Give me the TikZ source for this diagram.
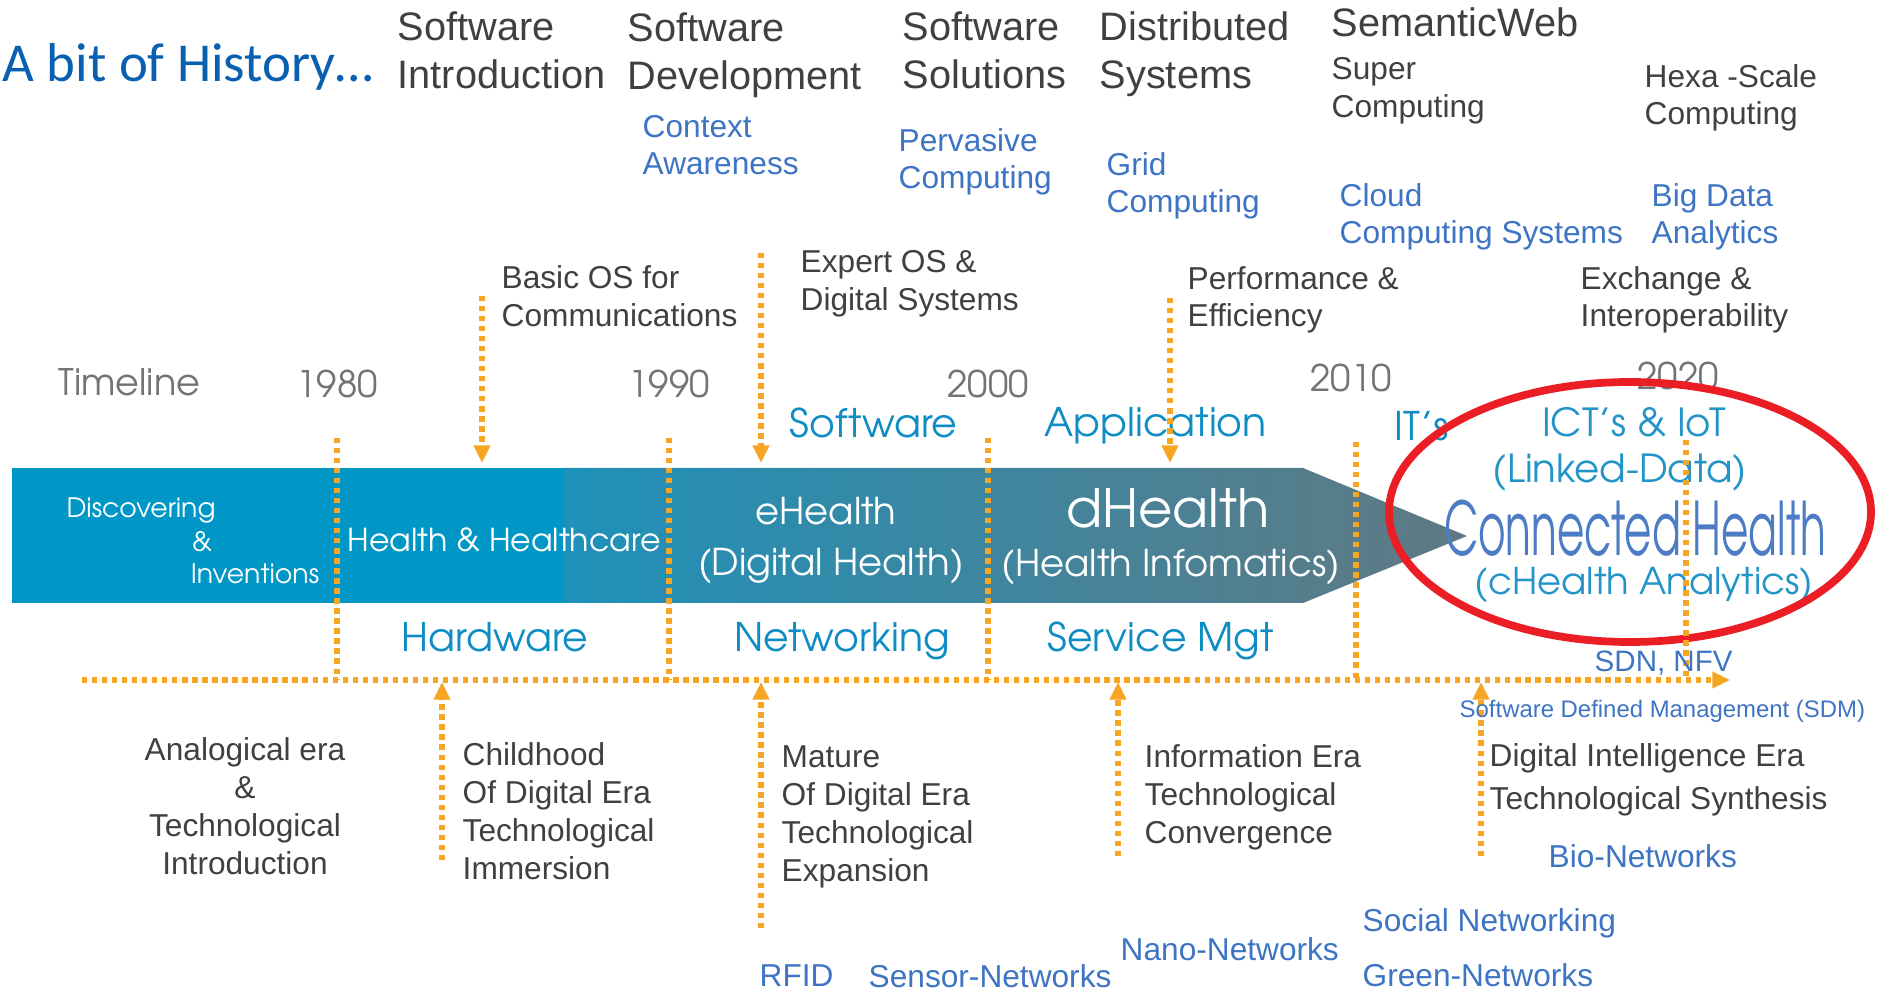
\documentclass[tikz,border=0pt]{standalone}
\usepackage{fontspec}
\setmainfont{Liberation Sans}
\newfontfamily\gothic{TeX Gyre Adventor}
\newfontfamily\gothiccond[FakeStretch=0.57]{TeX Gyre Adventor}
\newfontfamily\calibri{Carlito}
\usetikzlibrary{arrows.meta}
\definecolor{headgray}{RGB}{64,64,64}
\definecolor{linegray}{RGB}{115,115,115}
\definecolor{techblue}{RGB}{62,116,196}
\definecolor{erablue}{RGB}{14,140,196}
\definecolor{titleblue}{RGB}{10,96,176}
\definecolor{dotorange}{RGB}{246,166,35}
\definecolor{bandsolid}{RGB}{0,151,198}
\definecolor{bandmid}{RGB}{31,145,185}
\definecolor{bandend}{RGB}{96,121,130}
\definecolor{ellred}{RGB}{234,30,36}
\definecolor{connblue}{RGB}{76,124,196}
\definecolor{ictblue}{RGB}{34,148,200}
\def\dotdown{\draw[dotline,-{Triangle[length=5pt,width=4.5pt]}]}
\def\dotplain{\draw[dotline]}

\begin{document}
\begin{tikzpicture}[x=0.01cm,y=-0.01cm,
    heading/.style={anchor=west,inner sep=0pt,align=left,text=headgray,font=\fontsize{11.3}{13.7}\selectfont},
    subhead/.style={anchor=west,inner sep=0pt,align=left,text=headgray,font=\fontsize{9}{10.7}\selectfont},
    tech/.style={subhead,text=techblue},
    eratext/.style={subhead,font=\fontsize{9}{10.8}\selectfont},
    year/.style={inner sep=0pt,text=linegray,font=\gothic\fontsize{10.4}{12}\selectfont},
    tier/.style={anchor=west,inner sep=0pt,text=erablue,font=\gothic\fontsize{11.2}{13}\selectfont},
    inband/.style={inner sep=0pt,text=white,font=\gothic\fontsize{10.5}{13}\selectfont},
    dotline/.style={draw=dotorange,line width=1.5pt,dash pattern=on 1.5pt off 1.35pt}]
    \useasboundingbox (0,0) rectangle (1883,989);

    % the band
    \fill[bandsolid] (12,468) rectangle (564,603);
    \shade[left color=bandmid,right color=bandend] (564,468) -- (1303,468) -- (1467,536) -- (1303,603) -- (564,603) -- cycle;

    % title and top rows
    \node[anchor=west,inner sep=0pt,text=titleblue,font=\calibri\fontsize{15.6}{18}\selectfont] (title) at (2,67) {A bit of History…};
    \node[heading] (swintro) at (397,50) {Software\\Introduction};
    \node[heading] (swdev)   at (627,55) {Software\\Development};
    \node[heading] (swsol)   at (902,50) {Software\\Solutions};
    \node[heading] (distsys) at (1099,54) {Distributed\\Systems};
    \node[heading] (semweb)  at (1331,22) {SemanticWeb};
    \node[subhead] (super)   at (1331,91) {Super\\Computing};
    \node[subhead] (hexa)    at (1644,98) {Hexa -Scale\\Computing};

    \node[tech] (context)   at (642,145) {Context\\Awareness};
    \node[tech] (pervasive) at (898,162) {Pervasive\\Computing};
    \node[tech] (grid)      at (1106,186) {Grid\\Computing};
    \node[tech] (cloud)     at (1339,217) {Cloud\\Computing Systems};
    \node[tech] (bigdata)   at (1651,217) {Big Data\\Analytics};

    \node[subhead] (basicos)  at (501,296) {Basic OS for\\Communications};
    \node[subhead] (expertos) at (800,284) {Expert OS \&\\Digital Systems};
    \node[subhead] (perf)     at (1187,300) {Performance \&\\Efficiency};
    \node[subhead] (exchange) at (1580,300) {Exchange \&\\Interoperability};

    % timeline
    \node[year,anchor=west] (timeline) at (58,382) {Timeline};
    \node[year] (y1980) at (337,384) {1980};
    \node[year] (y1990) at (669,384) {1990};
    \node[year] (y2000) at (988,384) {2000};
    \node[year] (y2010) at (1351,378) {2010};
    \node[year] (y2020) at (1678,376) {2020};

    \node[tier] (software)    at (789,423) {Software};
    \node[tier] (application) at (1044,426) {Application};
    \node[tier] (its)         at (1394,426) {IT’s};
    \node[tier] (hardware)    at (401,637) {Hardware};
    \node[tier] (networking)  at (734,641) {Networking};
    \node[tier] (servicemgt)  at (1047,641) {Service Mgt};

    % inside the band
    \node[inband,font=\gothic\fontsize{7.6}{9}\selectfont] (disc1) at (141,511) {Discovering};
    \node[inband,font=\gothic\fontsize{7.6}{9}\selectfont] (disc2) at (202,542) {\&};
    \node[inband,font=\gothic\fontsize{7.6}{9}\selectfont] (disc3) at (255,574) {Inventions};
    \node[inband,font=\gothic\fontsize{9}{11}\selectfont] (health) at (504,540) {Health \& Healthcare};
    \node[inband] (ehealth)  at (826,511) {eHealth};
    \node[inband] (ehealthb) at (831,566) {(Digital Health)};
    \node[inband,font=\gothic\fontsize{15}{18}\selectfont] (dhealth) at (1168,508) {dHealth};
    \node[inband] (dhealthb) at (1171,567) {(Health Infomatics)};

    % connected health
    \node[inner sep=0pt,text=ictblue,font=\gothic\fontsize{11}{13}\selectfont] (ict) at (1634,422) {ICT’s \& IoT};
    \node[inner sep=0pt,text=ictblue,font=\gothic\fontsize{11}{13}\selectfont] (linked) at (1620,473) {(Linked-Data)};
    \node[inner sep=0pt,text=connblue,font=\gothiccond\fontsize{21}{24}\selectfont] (connected) at (1635,528) {Connected Health};
    \node[inner sep=0pt,text=ictblue,font=\gothic\fontsize{10.5}{13}\selectfont] (chealth) at (1644,585) {(cHealth Analytics)};
    \draw[ellred,line width=2.2pt] (1630,512) ellipse [x radius=241,y radius=130];

    % dotted markers and arrows
    \foreach \x/\t in {337/438,669/438,988/438,1356/442,1686/440}
        \dotplain (\x,\t) -- (\x,680);
    \coordinate (axisstart) at (82,680);
    \coordinate (axisend) at (1730,680);
    \dotdown (axisstart) -- (axisend);
    \foreach \x/\t in {482/296,761/253,1170/298}
        \dotdown (\x,\t) -- (\x,463);
    \foreach \x/\b in {442/860,761/928,1118/856,1481/856}
        \dotdown (\x,\b) -- (\x,682);

    % bottom rows
    \node[eratext,anchor=center,align=center] (analog) at (245,806) {Analogical era\\\&\\Technological\\Introduction};
    \node[eratext] (childhood)   at (462,811) {Childhood\\Of Digital Era\\Technological\\Immersion};
    \node[eratext] (mature)      at (781,817) {Mature\\Of Digital Era\\Technological\\Expansion};
    \node[eratext] (information) at (1144,797) {Information Era\\Technological\\Convergence};
    \node[eratext,font=\fontsize{9}{12.1}\selectfont] (digital) at (1489,780) {Digital Intelligence Era\\Technological Synthesis};

    \node[tech,font=\fontsize{8.4}{10}\selectfont] (sdn) at (1594,663) {SDN, NFV};
    \node[tech,font=\fontsize{6.8}{8}\selectfont] (sdm) at (1459,711) {Software Defined Management (SDM)};
    \node[tech] (bio)    at (1548,856) {Bio-Networks};
    \node[tech] (social) at (1362,923) {Social Networking};
    \node[tech] (green)  at (1362,975) {Green-Networks};
    \node[tech] (nano)   at (1120,949) {Nano-Networks};
    \node[tech] (sensor) at (868,976) {Sensor-Networks};
    \node[tech] (rfid)   at (759,976) {RFID};
\end{tikzpicture}
\end{document}
